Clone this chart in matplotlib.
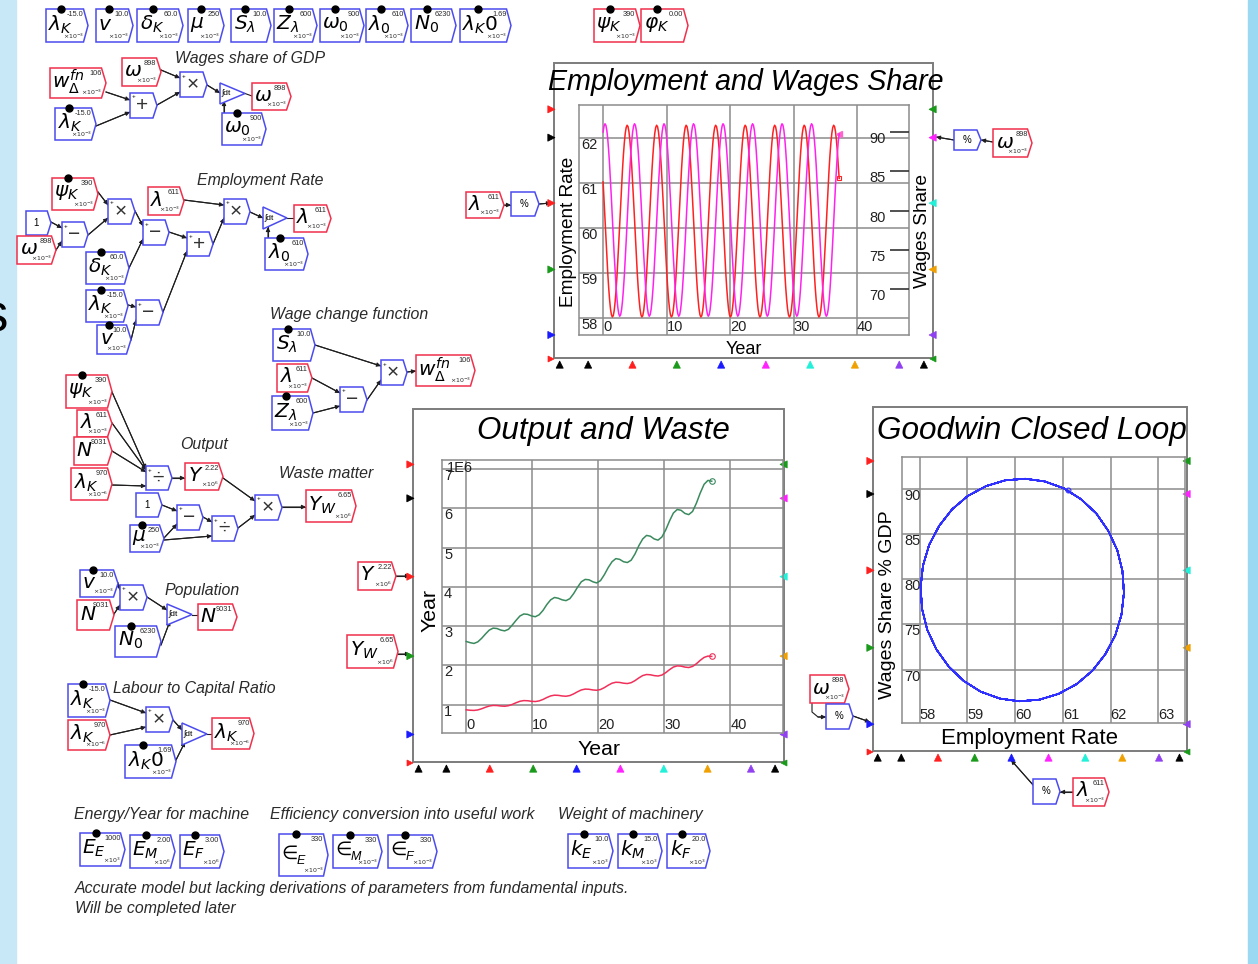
import matplotlib
matplotlib.use("Agg")
import matplotlib.pyplot as plt
from matplotlib.patches import Polygon, Rectangle

plt.rcParams['font.family'] = ['Liberation Sans', 'DejaVu Sans']

# ---------------- data ----------------
# simulation time grid of the Employment / Wages plot (years)
years = [round(0.1453125 * i, 4) for i in range(257)]
# employment rate (%), one row per cycle of the oscillation
employment = [
    61.02, 60.62, 60.21, 59.79, 59.39, 59.01, 58.68, 58.41, 58.20, 58.07, 58.02, 58.05, 58.16, 58.35, 58.61, 58.92,
    59.28, 59.68, 60.09, 60.51, 60.91, 61.29, 61.62, 61.89, 62.10, 62.23, 62.28, 62.25, 62.14, 61.95, 61.70, 61.38,
    61.02, 60.62, 60.21, 59.79, 59.39, 59.01, 58.68, 58.41, 58.20, 58.07, 58.02, 58.05, 58.16, 58.35, 58.61, 58.92,
    59.28, 59.68, 60.09, 60.51, 60.91, 61.29, 61.62, 61.89, 62.10, 62.23, 62.28, 62.25, 62.14, 61.95, 61.70, 61.38,
    61.02, 60.62, 60.21, 59.79, 59.39, 59.01, 58.68, 58.41, 58.20, 58.07, 58.02, 58.05, 58.16, 58.35, 58.61, 58.92,
    59.28, 59.68, 60.09, 60.51, 60.91, 61.29, 61.62, 61.89, 62.10, 62.23, 62.28, 62.25, 62.14, 61.95, 61.70, 61.38,
    61.02, 60.62, 60.21, 59.79, 59.39, 59.01, 58.68, 58.41, 58.20, 58.07, 58.02, 58.05, 58.16, 58.35, 58.61, 58.92,
    59.28, 59.68, 60.09, 60.51, 60.91, 61.29, 61.62, 61.89, 62.10, 62.23, 62.28, 62.25, 62.14, 61.95, 61.70, 61.38,
    61.02, 60.62, 60.21, 59.79, 59.39, 59.01, 58.68, 58.41, 58.20, 58.07, 58.02, 58.05, 58.16, 58.35, 58.61, 58.92,
    59.28, 59.68, 60.09, 60.51, 60.91, 61.29, 61.62, 61.89, 62.10, 62.23, 62.28, 62.25, 62.14, 61.95, 61.70, 61.38,
    61.02, 60.62, 60.21, 59.79, 59.39, 59.01, 58.68, 58.41, 58.20, 58.07, 58.02, 58.05, 58.16, 58.35, 58.61, 58.92,
    59.28, 59.68, 60.09, 60.51, 60.91, 61.29, 61.62, 61.89, 62.10, 62.23, 62.28, 62.25, 62.14, 61.95, 61.70, 61.38,
    61.02, 60.62, 60.21, 59.79, 59.39, 59.01, 58.68, 58.41, 58.20, 58.07, 58.02, 58.05, 58.16, 58.35, 58.61, 58.92,
    59.28, 59.68, 60.09, 60.51, 60.91, 61.29, 61.62, 61.89, 62.10, 62.23, 62.28, 62.25, 62.14, 61.95, 61.70, 61.38,
    61.02, 60.62, 60.21, 59.79, 59.39, 59.01, 58.68, 58.41, 58.20, 58.07, 58.02, 58.05, 58.16, 58.35, 58.61, 58.92,
    59.28, 59.68, 60.09, 60.51, 60.91, 61.29, 61.62, 61.89, 62.10, 62.23, 62.28, 62.25, 62.14, 61.95, 61.70, 61.38,
    61.10]
# wages share of GDP (%), one row per cycle
wages_share = [
    90.04, 90.80, 91.10, 90.92, 90.28, 89.20, 87.72, 85.90, 83.80, 81.51, 79.12, 76.72, 74.39, 72.24, 70.33, 68.76,
    67.56, 66.80, 66.50, 66.68, 67.32, 68.40, 69.88, 71.70, 73.80, 76.09, 78.48, 80.88, 83.21, 85.36, 87.27, 88.84,
    90.04, 90.80, 91.10, 90.92, 90.28, 89.20, 87.72, 85.90, 83.80, 81.51, 79.12, 76.72, 74.39, 72.24, 70.33, 68.76,
    67.56, 66.80, 66.50, 66.68, 67.32, 68.40, 69.88, 71.70, 73.80, 76.09, 78.48, 80.88, 83.21, 85.36, 87.27, 88.84,
    90.04, 90.80, 91.10, 90.92, 90.28, 89.20, 87.72, 85.90, 83.80, 81.51, 79.12, 76.72, 74.39, 72.24, 70.33, 68.76,
    67.56, 66.80, 66.50, 66.68, 67.32, 68.40, 69.88, 71.70, 73.80, 76.09, 78.48, 80.88, 83.21, 85.36, 87.27, 88.84,
    90.04, 90.80, 91.10, 90.92, 90.28, 89.20, 87.72, 85.90, 83.80, 81.51, 79.12, 76.72, 74.39, 72.24, 70.33, 68.76,
    67.56, 66.80, 66.50, 66.68, 67.32, 68.40, 69.88, 71.70, 73.80, 76.09, 78.48, 80.88, 83.21, 85.36, 87.27, 88.84,
    90.04, 90.80, 91.10, 90.92, 90.28, 89.20, 87.72, 85.90, 83.80, 81.51, 79.12, 76.72, 74.39, 72.24, 70.33, 68.76,
    67.56, 66.80, 66.50, 66.68, 67.32, 68.40, 69.88, 71.70, 73.80, 76.09, 78.48, 80.88, 83.21, 85.36, 87.27, 88.84,
    90.04, 90.80, 91.10, 90.92, 90.28, 89.20, 87.72, 85.90, 83.80, 81.51, 79.12, 76.72, 74.39, 72.24, 70.33, 68.76,
    67.56, 66.80, 66.50, 66.68, 67.32, 68.40, 69.88, 71.70, 73.80, 76.09, 78.48, 80.88, 83.21, 85.36, 87.27, 88.84,
    90.04, 90.80, 91.10, 90.92, 90.28, 89.20, 87.72, 85.90, 83.80, 81.51, 79.12, 76.72, 74.39, 72.24, 70.33, 68.76,
    67.56, 66.80, 66.50, 66.68, 67.32, 68.40, 69.88, 71.70, 73.80, 76.09, 78.48, 80.88, 83.21, 85.36, 87.27, 88.84,
    90.04, 90.80, 91.10, 90.92, 90.28, 89.20, 87.72, 85.90, 83.80, 81.51, 79.12, 76.72, 74.39, 72.24, 70.33, 68.76,
    67.56, 66.80, 66.50, 66.68, 67.32, 68.40, 69.88, 71.70, 73.80, 76.09, 78.48, 80.88, 83.21, 85.36, 87.27, 88.84,
    89.80]

# time grid of the Output / Waste plot (years)
out_years = [round(0.58125 * i, 4) for i in range(65)]
# output Y (x 1E6)
output_Y = [
    0.870, 0.859, 0.855, 0.867, 0.897, 0.935, 0.967, 0.982,
    0.979, 0.967, 0.961, 0.975, 1.008, 1.051, 1.088, 1.105,
    1.101, 1.087, 1.081, 1.097, 1.134, 1.183, 1.224, 1.243,
    1.238, 1.223, 1.216, 1.233, 1.276, 1.330, 1.376, 1.398,
    1.393, 1.376, 1.368, 1.387, 1.435, 1.496, 1.548, 1.572,
    1.567, 1.548, 1.539, 1.561, 1.614, 1.683, 1.742, 1.769,
    1.762, 1.741, 1.731, 1.755, 1.816, 1.893, 1.959, 1.989,
    1.982, 1.958, 1.947, 1.975, 2.043, 2.130, 2.204, 2.238,
    2.230]
# waste matter Y_W (x 1E6)
waste_YW = [
    2.61, 2.58, 2.56, 2.60, 2.69, 2.80, 2.90, 2.95,
    2.94, 2.90, 2.88, 2.92, 3.03, 3.15, 3.26, 3.31,
    3.30, 3.26, 3.24, 3.29, 3.40, 3.55, 3.67, 3.73,
    3.71, 3.67, 3.65, 3.70, 3.83, 3.99, 4.13, 4.19,
    4.18, 4.13, 4.10, 4.16, 4.31, 4.49, 4.64, 4.72,
    4.70, 4.64, 4.62, 4.68, 4.84, 5.05, 5.22, 5.31,
    5.29, 5.22, 5.19, 5.27, 5.45, 5.68, 5.88, 5.97,
    5.95, 5.87, 5.84, 5.92, 6.13, 6.39, 6.61, 6.71,
    6.69]

year_ticks = [0, 10, 20, 30, 40]
emp_ticks = [58, 59, 60, 61, 62]
wage_ticks = [70, 75, 80, 85, 90]
out_ticks = [1, 2, 3, 4, 5, 6, 7]
loop_x_ticks = [58, 59, 60, 61, 62, 63]
loop_y_ticks = [70, 75, 80, 85, 90]

# ---------------- figure ----------------
W, H = 1258, 964
fig = plt.figure(figsize=(W / 100, H / 100), dpi=100)
bg = fig.add_axes([0, 0, 1, 1])
bg.set_xlim(0, W)
bg.set_ylim(H, 0)
bg.axis('off')

BLUE = '#4b4bef'
RED = '#f0304c'
WIRE = '#1e1e1e'
TXT = '#2a2a2a'
M3 = r'$\times10^{-3}$'
M6n = r'$\times10^{-6}$'
M6 = r'$\times10^{6}$'
M3p = r'$\times10^{3}$'

bg.add_patch(Rectangle((0, 0), 16, H, color='#c8e8f8', zorder=0))
bg.add_patch(Rectangle((1248, 0), 10, H, color='#9bd8f2', zorder=0))
bg.text(-19, 318, 's', fontsize=38, ha='left', va='center', color='black', zorder=1)


def flag(x0, y0, x1, y1, ec, lw=1.1, z=3):
    d = min(4.5, (x1 - x0) * 0.15)
    pts = [(x0, y0), (x1 - d, y0), (x1, (y0 + y1) / 2), (x1 - d, y1), (x0, y1)]
    bg.add_patch(Polygon(pts, closed=True, fc='white', ec=ec, lw=lw, zorder=z))


def var(x0, y0, x1, y1, sym, val, mult='', col=BLUE, dot=False, fs=14.5):
    flag(x0, y0, x1, y1, col)
    yc = (y0 + y1) / 2
    if isinstance(sym, tuple):
        bg.text(x0 + 2.5, yc - 2, sym[0], fontsize=fs - 1, family='DejaVu Sans', style='italic',
                ha='left', va='center', color='black', zorder=4)
        bg.text(x0 + 17.5, yc + 6, sym[1], fontsize=9, style='italic',
                ha='left', va='center', color='black', zorder=4)
    else:
        bg.text(x0 + 2.5, yc - 1, sym, fontsize=fs, ha='left', va='center',
                color='black', zorder=4)
    bg.text(x1 - 4.5, y0 + 2, val, fontsize=5.3, ha='right', va='top', color=TXT, zorder=4)
    if mult:
        bg.text(x1 - 4, y1 - 1, mult, fontsize=4.5, ha='right', va='bottom', color=TXT, zorder=4)
    if dot:
        bg.plot([x0 + (x1 - x0) * 0.35], [y0], 'o', color='black', ms=5, zorder=5)


def op(x0, y0, x1, y1, sym):
    flag(x0, y0, x1, y1, BLUE)
    bg.text((x0 + x1) / 2 - 1, (y0 + y1) / 2, sym, fontsize=15, ha='center', va='center',
            color='#333333', zorder=4)
    bg.text(x0 + 2, y0 + 4, '+', fontsize=4.5, ha='left', va='center', zorder=4)


def integ(x0, y0, x1, y1):
    bg.add_patch(Polygon([(x0, y0), (x1, (y0 + y1) / 2), (x0, y1)], closed=True,
                         fc='white', ec=BLUE, lw=1.1, zorder=3))
    bg.text(x0 + 1.5, (y0 + y1) / 2, '∫dt', fontsize=6, ha='left', va='center', zorder=4)


def wire(pts, arrow=True):
    xs = [p[0] for p in pts]
    ys = [p[1] for p in pts]
    bg.plot(xs, ys, color=WIRE, lw=0.8, zorder=2)
    if arrow:
        bg.annotate('', xy=pts[-1], xytext=pts[-2],
                    arrowprops=dict(arrowstyle='-|>', color=WIRE, lw=0.8,
                                    mutation_scale=6, shrinkA=0, shrinkB=0), zorder=2)


def label(x, y, s, fs=11.4):
    bg.text(x, y, s, fontsize=fs, style='italic', ha='left', va='center', color=TXT, zorder=4)


# ---- top parameter row ----
var(46, 9, 88, 42, r'$\lambda_{K}$', '-15.0', M3, dot=True)
var(96, 9, 133, 42, r'$v$', '10.0', M3, dot=True)
var(137, 9, 183, 42, r'$\delta_{K}$', '60.0', M3, dot=True)
var(188, 9, 224, 42, r'$\mu$', '250', M3, dot=True)
var(231, 9, 271, 42, r'$S_{\lambda}$', '10.0', '', dot=True)
var(274, 9, 317, 42, r'$Z_{\lambda}$', '600', M3, dot=True)
var(320, 9, 364, 42, r'$\omega_{0}$', '900', M3, dot=True)
var(366, 9, 408, 42, r'$\lambda_{0}$', '610', M3, dot=True)
var(411, 9, 456, 42, r'$N_{0}$', '6230', '', dot=True)
var(460, 9, 511, 42, r'$\lambda_{K}0$', '1.69', M3, dot=True)
var(594, 9, 640, 42, r'$\psi_{K}$', '390', M3, col=RED, dot=True)
var(641, 9, 688, 42, r'$\varphi_{K}$', '0.00', '', col=RED, dot=True)

# ---- wages share of GDP ----
label(175, 59, 'Wages share of GDP')
var(50, 68, 106, 98, r'$w_{\Delta}^{fn}$', '106', M3, col=RED)
var(55, 108, 96, 140, r'$\lambda_{K}$', '-15.0', M3, dot=True)
var(122, 58, 161, 86, r'$\omega$', '898', M3, col=RED)
op(130, 93, 157, 118, '+')
op(180, 72, 207, 97, '×')
integ(220, 83, 245, 104)
var(252, 83, 291, 110, r'$\omega$', '898', M3, col=RED)
var(222, 113, 266, 145, r'$\omega_{0}$', '900', M3, dot=True)
wire([(106, 92), (130, 100)])
wire([(96, 126), (130, 112)])
wire([(157, 105), (180, 92)])
wire([(161, 70), (180, 78)])
wire([(207, 85), (220, 93)])
wire([(245, 93.5), (252, 96)], arrow=False)
wire([(224, 118), (224, 101)])

# ---- employment rate ----
label(197, 181, 'Employment Rate')
var(52, 178, 98, 210, r'$\psi_{K}$', '390', M3, col=RED, dot=True)
flag(26, 211, 51, 235, BLUE)
bg.text(36, 223, '1', fontsize=7, ha='center', va='center', zorder=4)
var(17, 236, 56, 264, r'$\omega$', '898', M3, col=RED)
op(62, 222, 88, 247, '−')
op(108, 199, 135, 224, '×')
var(148, 187, 184, 215, r'$\lambda$', '611', M3, col=RED)
op(143, 220, 169, 245, '−')
op(187, 232, 213, 256, '+')
op(224, 199, 250, 224, '×')
integ(263, 207, 287, 229)
var(294, 205, 331, 232, r'$\lambda$', '611', M3, col=RED)
var(265, 238, 308, 270, r'$\lambda_{0}$', '610', M3, dot=True)
var(86, 252, 129, 284, r'$\delta_{K}$', '60.0', M3, dot=True)
var(86, 290, 128, 322, r'$\lambda_{K}$', '-15.0', M3, dot=True)
op(136, 300, 163, 325, '−')
var(97, 325, 131, 354, r'$v$', '10.0', M3, dot=True)
wire([(98, 192), (108, 205)])
wire([(51, 222), (62, 228)])
wire([(56, 250), (62, 241)])
wire([(88, 235), (108, 218)])
wire([(135, 211), (143, 226)])
wire([(129, 268), (143, 239)])
wire([(169, 232), (187, 238)])
wire([(163, 312), (187, 251)])
wire([(184, 200), (224, 205)])
wire([(213, 244), (224, 218)])
wire([(250, 212), (263, 218)])
wire([(287, 218), (294, 218)], arrow=False)
wire([(268, 243), (268, 227)])
wire([(128, 305), (136, 307)])
wire([(131, 340), (136, 320)])

# ---- wage change function ----
label(270, 314, 'Wage change function')
var(273, 329, 315, 361, r'$S_{\lambda}$', '10.0', '', dot=True)
var(277, 364, 312, 392, r'$\lambda$', '611', M3, col=RED)
var(272, 396, 313, 430, r'$Z_{\lambda}$', '600', M3, dot=True)
op(340, 387, 367, 412, '−')
op(381, 360, 407, 385, '×')
var(416, 355, 475, 386, r'$w_{\Delta}^{fn}$', '106', M3, col=RED)
wire([(315, 345), (381, 366)])
wire([(312, 378), (340, 393)])
wire([(313, 413), (340, 406)])
wire([(367, 400), (381, 380)])
wire([(407, 372), (416, 371)])

# ---- output / waste ----
label(180, 445, 'Output')
label(279, 474, 'Waste matter')
var(66, 375, 112, 408, r'$\psi_{K}$', '390', M3, col=RED, dot=True)
var(77, 410, 112, 437, r'$\lambda$', '611', M3, col=RED)
var(74, 437, 112, 465, r'$N$', '9031', '', col=RED)
var(71, 468, 112, 500, r'$\lambda_{K}$', '970', M6n, col=RED)
op(146, 466, 172, 490, '÷')
var(185, 463, 223, 490, r'$Y$', '2.22', M6, col=RED)
flag(136, 493, 162, 517, BLUE)
bg.text(147, 505, '1', fontsize=7, ha='center', va='center', zorder=4)
var(130, 525, 164, 552, r'$\mu$', '250', M3, dot=True)
op(177, 505, 203, 530, '−')
op(212, 516, 238, 541, '÷')
op(255, 495, 282, 520, '×')
var(306, 490, 356, 522, r'$Y_{W}$', '6.65', M6, col=RED)
wire([(112, 392), (146, 469)])
wire([(112, 423), (146, 470)])
wire([(112, 451), (146, 472)])
wire([(112, 485), (146, 486)])
wire([(172, 478), (185, 478)])
wire([(223, 478), (255, 501)])
wire([(162, 505), (177, 511)])
wire([(164, 538), (177, 524)])
wire([(164, 540), (212, 536)])
wire([(203, 517), (212, 522)])
wire([(238, 528), (255, 515)])
wire([(282, 507), (306, 507)])

# ---- population ----
label(165, 590, 'Population')
var(80, 570, 118, 597, r'$v$', '10.0', M3, dot=True)
var(77, 600, 114, 630, r'$N$', '9031', '', col=RED)
op(120, 585, 147, 610, '×')
integ(167, 604, 192, 625)
var(198, 604, 237, 630, r'$N$', '9031', '', col=RED)
var(115, 626, 161, 657, r'$N_{0}$', '6230', '', dot=True)
wire([(118, 583), (120, 590)])
wire([(114, 614), (120, 605)])
wire([(147, 597), (167, 610)])
wire([(192, 614.5), (198, 614.5)], arrow=False)
wire([(161, 645), (170, 621)])

# ---- labour to capital ratio ----
label(113, 689, 'Labour to Capital Ratio')
var(68, 684, 110, 717, r'$\lambda_{K}$', '-15.0', M3, dot=True)
var(68, 720, 110, 750, r'$\lambda_{K}$', '970', M6n, col=RED)
op(146, 707, 173, 732, '×')
integ(182, 723, 207, 745)
var(212, 718, 254, 749, r'$\lambda_{K}$', '970', M6n, col=RED)
var(125, 745, 176, 778, r'$\lambda_{K}0$', '1.69', M3, dot=True)
wire([(110, 700), (146, 713)])
wire([(110, 735), (146, 727)])
wire([(173, 720), (182, 730)])
wire([(207, 734), (212, 734)], arrow=False)
wire([(176, 760), (185, 742)])

# ---- bottom notes ----
label(74, 815, 'Energy/Year for machine')
label(270, 815, 'Efficiency conversion into useful work')
label(558, 815, 'Weight of machinery')
var(80, 833, 125, 866, r'$E_{E}$', '1000', M3p, dot=True)
var(130, 835, 175, 868, r'$E_{M}$', '2.00', M6, dot=True)
var(180, 835, 224, 868, r'$E_{F}$', '3.00', M6, dot=True)
var(279, 834, 328, 876, ('∈', 'E'), '330', M3, dot=True)
var(333, 835, 382, 868, ('∈', 'M'), '330', M3, dot=True)
var(388, 835, 437, 868, ('∈', 'F'), '330', M3, dot=True)
var(568, 834, 613, 868, r'$k_{E}$', '10.0', M3p, dot=True)
var(618, 834, 662, 868, r'$k_{M}$', '15.0', M3p, dot=True)
var(667, 834, 710, 868, r'$k_{F}$', '20.0', M3p, dot=True)
label(75, 888, 'Accurate model but lacking derivations of parameters from fundamental inputs.')
label(75, 908, 'Will be completed later')

# ---------------- chart frames & ports ----------------
LF = [0.157, 0.253, 0.475, 0.700, 0.922]
LC = ['#ff1f1f', '#000000', '#ff1f1f', '#1a9a1a', '#1a1aff']
RC = ['#1a9a1a', '#ff22ff', '#22f0d8', '#f0a000', '#9040f0']
BF = [0.015, 0.09, 0.207, 0.324, 0.441, 0.559, 0.676, 0.794, 0.911, 0.976]
BC = ['#000000', '#000000', '#ff1f1f', '#1a9a1a', '#1a1aff', '#ff22ff', '#22f0d8',
      '#f0a000', '#9040f0', '#000000']


def tri(x, y, d, c, s=3.6):
    if d == 'r':
        pts = [(x - 2 * s, y - s), (x, y), (x - 2 * s, y + s)]
    elif d == 'l':
        pts = [(x + 2 * s, y - s), (x, y), (x + 2 * s, y + s)]
    else:
        pts = [(x - s, y + 2 * s), (x, y), (x + s, y + 2 * s)]
    bg.add_patch(Polygon(pts, closed=True, fc=c, ec=c, lw=0.5, zorder=6))


def frame(x0, y0, x1, y1):
    bg.add_patch(Rectangle((x0, y0), x1 - x0, y1 - y0, fill=False, ec='#7c7c7c',
                           lw=1.4, zorder=1))
    for f, c in zip(LF, LC):
        tri(x0 + 1, y0 + f * (y1 - y0), 'r', c)
    for f, c in zip(LF, RC):
        tri(x1 - 4, y0 + f * (y1 - y0), 'l', c)
    for f, c in zip(BF, BC):
        tri(x0 + f * (x1 - x0), y1 + 3, 'u', c)
    tri(x0, y1 + 1, 'r', '#ff1f1f', s=3)
    tri(x1 - 3, y1 + 1, 'l', '#1a9a1a', s=3)


frame(554, 63, 933, 358)
frame(413, 409, 784, 762)
frame(873, 407, 1187, 751)


def px_axes(x0, y0, x1, y1):
    return fig.add_axes([x0 / W, 1 - y1 / H, (x1 - x0) / W, (y1 - y0) / H])


def style(ax, xt, yt, xlim, ylim, fs=10.5):
    ax.set_xlim(*xlim)
    ax.set_ylim(*ylim)
    ax.set_xticks(xt)
    ax.set_yticks(yt)
    ax.set_xticklabels([str(v) for v in xt])
    ax.set_yticklabels([str(v) for v in yt])
    ax.grid(True, color='#8c8c8c', lw=1.1)
    ax.set_axisbelow(True)
    ax.patch.set_alpha(0)
    for s in ax.spines.values():
        s.set_color('#8c8c8c')
        s.set_linewidth(1.1)
    ax.tick_params(axis='x', length=0, pad=-1, labelsize=fs, labelcolor='#222222')
    ax.tick_params(axis='y', length=0, pad=-1.5, labelsize=fs, labelcolor='#222222')
    for lb in ax.get_xticklabels():
        lb.set_ha('left')
        lb.set_va('bottom')
    for lb in ax.get_yticklabels():
        lb.set_ha('left')
        lb.set_va('top')


# ---- Employment and Wages Share ----
ax1 = px_axes(579, 105, 909, 335)
style(ax1, year_ticks, emp_ticks, (-3.8, 48.2), (57.62, 62.73))
ax1.plot(years, employment, color='#ff2020', lw=1.1, zorder=3)
ax1.plot(years[-1], employment[-1], marker='s', ms=3, mfc='none', mec='#ff2020', mew=0.8)
ax1.set_xlabel('Year', fontsize=13, va='center')
ax1.xaxis.set_label_coords(0.5, -0.062)
ax1.set_ylabel('Employment Rate', fontsize=13.7, va='center')
ax1.yaxis.set_label_coords(-0.033, 0.45)
ax1b = ax1.twinx()
ax1b.set_ylim(64.1, 93.5)
ax1b.set_yticks(wage_ticks)
ax1b.set_yticklabels([str(v) for v in wage_ticks])
ax1b.plot(years, wages_share, color='#ff22ee', lw=1.1, zorder=3)
ax1b.plot(years[-1], wages_share[-1], marker='<', ms=4, color='#ff66cc')
for s in ax1b.spines.values():
    s.set_visible(False)
ax1b.tick_params(axis='y', direction='in', length=14, width=1.2, color='#333333',
                 pad=-17, labelsize=10.5, labelcolor='#222222')
for lb in ax1b.get_yticklabels():
    lb.set_ha('right')
    lb.set_va('top')
ax1b.set_ylabel('Wages Share', fontsize=13.7, va='center', rotation=90)
ax1b.yaxis.set_label_coords(1.042, 0.45)
bg.text(746, 82, 'Employment and Wages Share', fontsize=20.6, style='italic',
        ha='center', va='center', color='black', zorder=4)

# ---- Output and Waste ----
ax2 = px_axes(442, 460, 783, 733)
style(ax2, year_ticks, out_ticks, (-3.68, 48.0), (0.28, 7.23))
ax2.plot(out_years, output_Y, color='#f0305a', lw=1.1)
ax2.plot(out_years, waste_YW, color='#3a8a5e', lw=1.1)
ax2.plot(out_years[-1], output_Y[-1], marker='o', ms=4, mfc='none', mec='#f0305a', mew=0.8)
ax2.plot(out_years[-1], waste_YW[-1], marker='o', ms=4, mfc='none', mec='#3a8a5e', mew=0.8)
ax2.text(0.015, 0.995, '1E6', transform=ax2.transAxes, fontsize=10.5, ha='left', va='top',
         color='#222222')
ax2.set_xlabel('Year', fontsize=15.3, va='center')
ax2.xaxis.set_label_coords(0.46, -0.06)
ax2.set_ylabel('Year', fontsize=15.3, va='center')
ax2.yaxis.set_label_coords(-0.034, 0.45)
bg.text(603, 431, 'Output and Waste', fontsize=22.6, style='italic',
        ha='center', va='center', color='black', zorder=4)

# ---- Goodwin Closed Loop ----
ax3 = px_axes(902, 457, 1185, 723)
style(ax3, loop_x_ticks, loop_y_ticks, (57.63, 63.56), (64.1, 93.5))
ax3.plot(employment, wages_share, color='#3030ff', lw=1.1)
ax3.plot(employment[-1], wages_share[-1], marker='o', ms=3.5, mfc='none', mec='#3030ff', mew=0.8)
ax3.set_xlabel('Employment Rate', fontsize=16, va='center')
ax3.xaxis.set_label_coords(0.449, -0.06)
ax3.set_ylabel('Wages Share % GDP', fontsize=14, va='center')
ax3.yaxis.set_label_coords(-0.05, 0.445)
bg.text(1032, 431, 'Goodwin Closed Loop', fontsize=22.7, style='italic',
        ha='center', va='center', color='black', zorder=4)

# ---- chart inputs ----
var(466, 192, 504, 218, r'$\lambda$', '611', M3, col=RED)
flag(511, 192, 539, 216, BLUE)
bg.text(524, 204, '%', fontsize=7, ha='center', va='center', zorder=4)
wire([(504, 205), (511, 205)])
wire([(539, 204), (551, 203)])

var(993, 129, 1032, 157, r'$\omega$', '898', M3, col=RED)
flag(954, 130, 981, 150, BLUE)
bg.text(967, 140, '%', fontsize=7, ha='center', va='center', zorder=4)
wire([(993, 142), (981, 140)])
wire([(954, 140), (936, 137)])

var(358, 562, 396, 590, r'$Y$', '2.22', M6, col=RED)
wire([(396, 576), (410, 576)])
var(347, 635, 398, 668, r'$Y_{W}$', '6.65', M6, col=RED)
wire([(398, 654), (410, 654)])

var(810, 675, 849, 703, r'$\omega$', '898', M3, col=RED)
flag(826, 704, 853, 729, BLUE)
bg.text(839, 716, '%', fontsize=7, ha='center', va='center', zorder=4)
wire([(812, 695), (812, 712), (818, 717), (826, 717)])
wire([(853, 716), (870, 722)])

var(1073, 778, 1109, 806, r'$\lambda$', '611', M3, col=RED)
flag(1033, 779, 1060, 804, BLUE)
bg.text(1046, 791, '%', fontsize=7, ha='center', va='center', zorder=4)
wire([(1073, 792), (1060, 792)])
wire([(1034, 786), (1011, 760)])

fig.savefig('out.png', dpi=100)
